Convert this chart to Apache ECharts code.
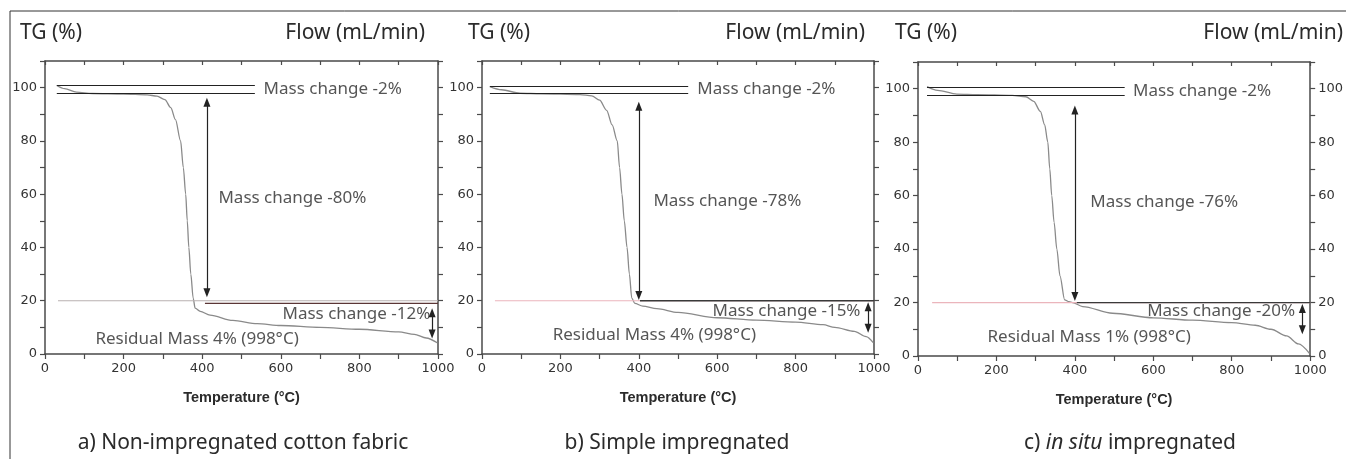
<!DOCTYPE html>
<html>
<head>
<meta charset="utf-8">
<script src="https://cdn.jsdelivr.net/npm/echarts@6.0.0/dist/echarts.min.js"></script>
<style>
  html, body { margin: 0; padding: 0; background: #fff; }
  #chart { width: 1346px; height: 459px; }
</style>
</head>
<body>
<div id="chart"></div>
<script>
  // TG curves (temperature in °C, mass in %)
  const tempA = [30, 50, 80, 120, 200, 260, 285, 305, 320, 332, 345, 352, 358, 362, 366, 371, 377, 382, 395, 420, 478, 540, 600, 700, 800, 900, 940, 970, 998]
  const tgA = [100.8, 99.6, 98.3, 97.8, 97.6, 97.3, 96.8, 95.5, 92.5, 88, 80, 70, 60, 50, 40, 30, 21, 17.2, 16, 14.6, 12.6, 11.4, 10.7, 10, 9.3, 8.3, 7.4, 6, 4.2]
  const tempB = [20, 50, 97, 150, 250, 280, 300, 318, 332, 345, 351, 357, 363, 370, 376, 382, 390, 410, 446, 500, 600, 700, 800, 870, 900, 950, 980, 998]
  const tgB = [100.4, 99.2, 97.9, 97.7, 97.4, 96.9, 95.3, 91.5, 86, 80, 70, 60, 50, 40, 30, 21, 19, 18, 17, 15.6, 13.6, 12.7, 12, 11, 10, 8.5, 6.5, 4.3]
  const tempC = [23, 50, 99, 150, 240, 275, 295, 312, 323, 331, 336, 341, 347, 354, 362, 374, 385, 394, 420, 496, 600, 700, 800, 860, 900, 940, 970, 998]
  const tgC = [100.8, 99.4, 98, 97.8, 97.5, 97, 95.3, 91.5, 86.5, 80, 70, 60, 50, 40, 30, 21, 20.3, 20, 18.5, 16, 14.3, 13.4, 12.5, 11.5, 10, 7.5, 4.5, 1]

  const xTickLabels = [0, 200, 400, 600, 800, 1000]
  const yTickLabels = [0, 20, 40, 60, 80, 100]

  // annotation marks, data coords: [xStart, xEnd, yUpper, yLower]
  const stepLines = [[30, 534, 101, 98], [20, 526, 100.5, 97.8], [23, 527, 100.5, 97.6]]
  // [x, yTop, yBottom]
  const mainArrows = [[412, 94.5, 23], [400, 93, 22], [400, 92, 22.3]]
  const endArrows = [[985, 15.5, 7.5], [985, 17.7, 9.7], [980, 17.8, 9.8]]
  const flowLevel = 20
  const flowStart = [33, 33, 36]
  // [xStart, level]
  const refLines = [[407, 19], [403, 20], [405, 20]]

  const notes = [
    ['Mass change -2%', 'Mass change -80%', 'Mass change -12%', 'Residual Mass 4% (998°C)'],
    ['Mass change -2%', 'Mass change -78%', 'Mass change -15%', 'Residual Mass 4% (998°C)'],
    ['Mass change -2%', 'Mass change -76%', 'Mass change -20%', 'Residual Mass 1% (998°C)'],
  ]

  const temps = [tempA, tempB, tempC]
  const tgs = [tgA, tgB, tgC]

  // layout
  const grids = [
    { left: 45, top: 61, width: 393, height: 293 },
    { left: 482, top: 61, width: 392, height: 293 },
    { left: 918, top: 62, width: 393, height: 294 },
  ]
  const noteAt = [
    [[555, 99.6], [440, 58.5], [603, 15], [127, 5.7]],
    [[548, 99.3], [436, 57.4], [587, 16.2], [179, 7.2]],
    [[547, 99.2], [438, 57.7], [583, 16.8], [176, 7]],
  ]
  const titleX = [[20, 425], [468, 865], [895, 1343]]
  const captionX = [243, 677, 1130]

  const axisColor = '#4a4a4a'
  const textColor = '#2b2b2b'
  const tickText = { fontFamily: 'DejaVu Sans', fontSize: 13, color: '#333' }
  const noteFont = 'Noto Sans'

  const xAxis = []
  const yAxis = []
  const series = []

  grids.forEach((g, i) => {
    xAxis.push({
      gridIndex: i,
      type: 'value',
      min: 0,
      max: 1000,
      interval: 100,
      position: 'bottom',
      axisLine: { onZero: false, lineStyle: { color: axisColor, width: 1.5 } },
      axisTick: { length: 5, lineStyle: { color: axisColor, width: 1.2 } },
      axisLabel: { margin: 8, ...tickText, formatter: v => (xTickLabels.includes(v) ? v : '') },
      splitLine: { show: false },
      name: 'Temperature (°C)',
      nameLocation: 'middle',
      nameGap: 36,
      nameTextStyle: { fontFamily: 'Liberation Sans', fontWeight: 'bold', fontSize: 14.5, color: textColor },
    })
    xAxis.push({
      gridIndex: i,
      type: 'value',
      min: 0,
      max: 1000,
      interval: 100,
      position: 'top',
      axisLine: { onZero: false, lineStyle: { color: axisColor, width: 1.5 } },
      axisTick: { inside: true, length: 4, lineStyle: { color: axisColor, width: 1.2 } },
      axisLabel: { show: false },
      splitLine: { show: false },
    })
    ;['left', 'right'].forEach(side => {
      yAxis.push({
        gridIndex: i,
        type: 'value',
        min: 0,
        max: 110,
        interval: 10,
        position: side,
        axisLine: { show: true, onZero: false, lineStyle: { color: axisColor, width: 1.5 } },
        axisTick: { show: true, length: 5, lineStyle: { color: axisColor, width: 1.2 } },
        axisLabel: {
          // right labels of a and b sit under the next panel's left labels
          show: side === 'left' || i === 2,
          margin: 8,
          ...tickText,
          formatter: v => (yTickLabels.includes(v) ? v : ''),
        },
        splitLine: { show: false },
      })
    })

    const s = stepLines[i]
    const m = mainArrows[i]
    const e = endArrows[i]
    const arrowEnd = { symbol: 'triangle', symbolSize: [7, 9] }

    series.push({
      name: 'TG',
      type: 'line',
      xAxisIndex: 2 * i,
      yAxisIndex: 2 * i,
      data: temps[i].map((t, k) => [t, tgs[i][k]]),
      showSymbol: false,
      smooth: 0.3,
      smoothMonotone: 'x',
      lineStyle: { color: '#8a8a8a', width: 1.3 },
      markLine: {
        silent: true,
        symbol: 'none',
        label: { show: false },
        lineStyle: { color: '#222', width: 1.2, type: 'solid' },
        data: [
          [{ coord: [s[0], s[2]] }, { coord: [s[1], s[2]] }],
          [{ coord: [s[0], s[3]] }, { coord: [s[1], s[3]] }],
          [{ coord: [m[0], m[1]], ...arrowEnd }, { coord: [m[0], m[2]], ...arrowEnd }],
          [{ coord: [e[0], e[1]], ...arrowEnd }, { coord: [e[0], e[2]], ...arrowEnd }],
        ],
      },
    })
    series.push({
      name: 'Flow',
      type: 'line',
      xAxisIndex: 2 * i,
      yAxisIndex: 2 * i + 1,
      data: [[flowStart[i], flowLevel], [1000, flowLevel]],
      showSymbol: false,
      lineStyle: { color: i === 0 ? '#b8b0b0' : '#ebb5bc', width: 1.2 },
    })
    series.push({
      name: 'ref',
      type: 'line',
      xAxisIndex: 2 * i,
      yAxisIndex: 2 * i,
      data: [[refLines[i][0], refLines[i][1]], [1000, refLines[i][1]]],
      showSymbol: false,
      lineStyle: { color: i === 0 ? '#5b3636' : '#3a3a3a', width: 1.3 },
    })
    series.push({
      name: 'notes',
      type: 'scatter',
      xAxisIndex: 2 * i,
      yAxisIndex: 2 * i,
      symbolSize: 1,
      itemStyle: { color: 'rgba(0,0,0,0)' },
      silent: true,
      data: notes[i].map((txt, k) => ({ name: txt, value: noteAt[i][k] })),
      label: {
        show: true,
        position: 'right',
        distance: 0,
        formatter: p => p.name,
        fontFamily: noteFont,
        fontSize: 17,
        color: textColor,
      },
    })
  })

  const graphic = [
    {
      type: 'rect',
      shape: { x: 10, y: 11, width: 1345, height: 470 },
      style: { fill: 'none', stroke: '#333', lineWidth: 1 },
      silent: true,
    },
  ]
  titleX.forEach(([l, r]) => {
    graphic.push({
      type: 'text',
      style: { text: 'TG (%)', x: l, y: 33, font: '21px "Noto Sans"', fill: textColor, align: 'left', verticalAlign: 'middle' },
    })
    graphic.push({
      type: 'text',
      style: { text: 'Flow (mL/min)', x: r, y: 33, font: '21px "Noto Sans"', fill: textColor, align: 'right', verticalAlign: 'middle' },
    })
  })
  const captions = [
    'a) Non-impregnated cotton fabric',
    'b) Simple impregnated',
    '{n|c) }{i|in situ}{n| impregnated}',
  ]
  captions.forEach((txt, i) => {
    graphic.push({
      type: 'text',
      style: {
        text: txt,
        x: captionX[i],
        y: 443,
        font: '21px "Noto Sans"',
        fill: textColor,
        align: 'center',
        verticalAlign: 'middle',
        rich: {
          n: { fontFamily: 'Noto Sans', fontSize: 21, color: textColor },
          i: { fontFamily: 'Noto Sans', fontSize: 21, fontStyle: 'italic', color: textColor },
        },
      },
    })
  })

  const myChart = echarts.init(document.getElementById('chart'))
  const option = {
    animation: false,
    backgroundColor: '#fff',
    grid: grids,
    xAxis,
    yAxis,
    series,
    graphic,
  }
  myChart.setOption(option)
</script>
</body>
</html>
